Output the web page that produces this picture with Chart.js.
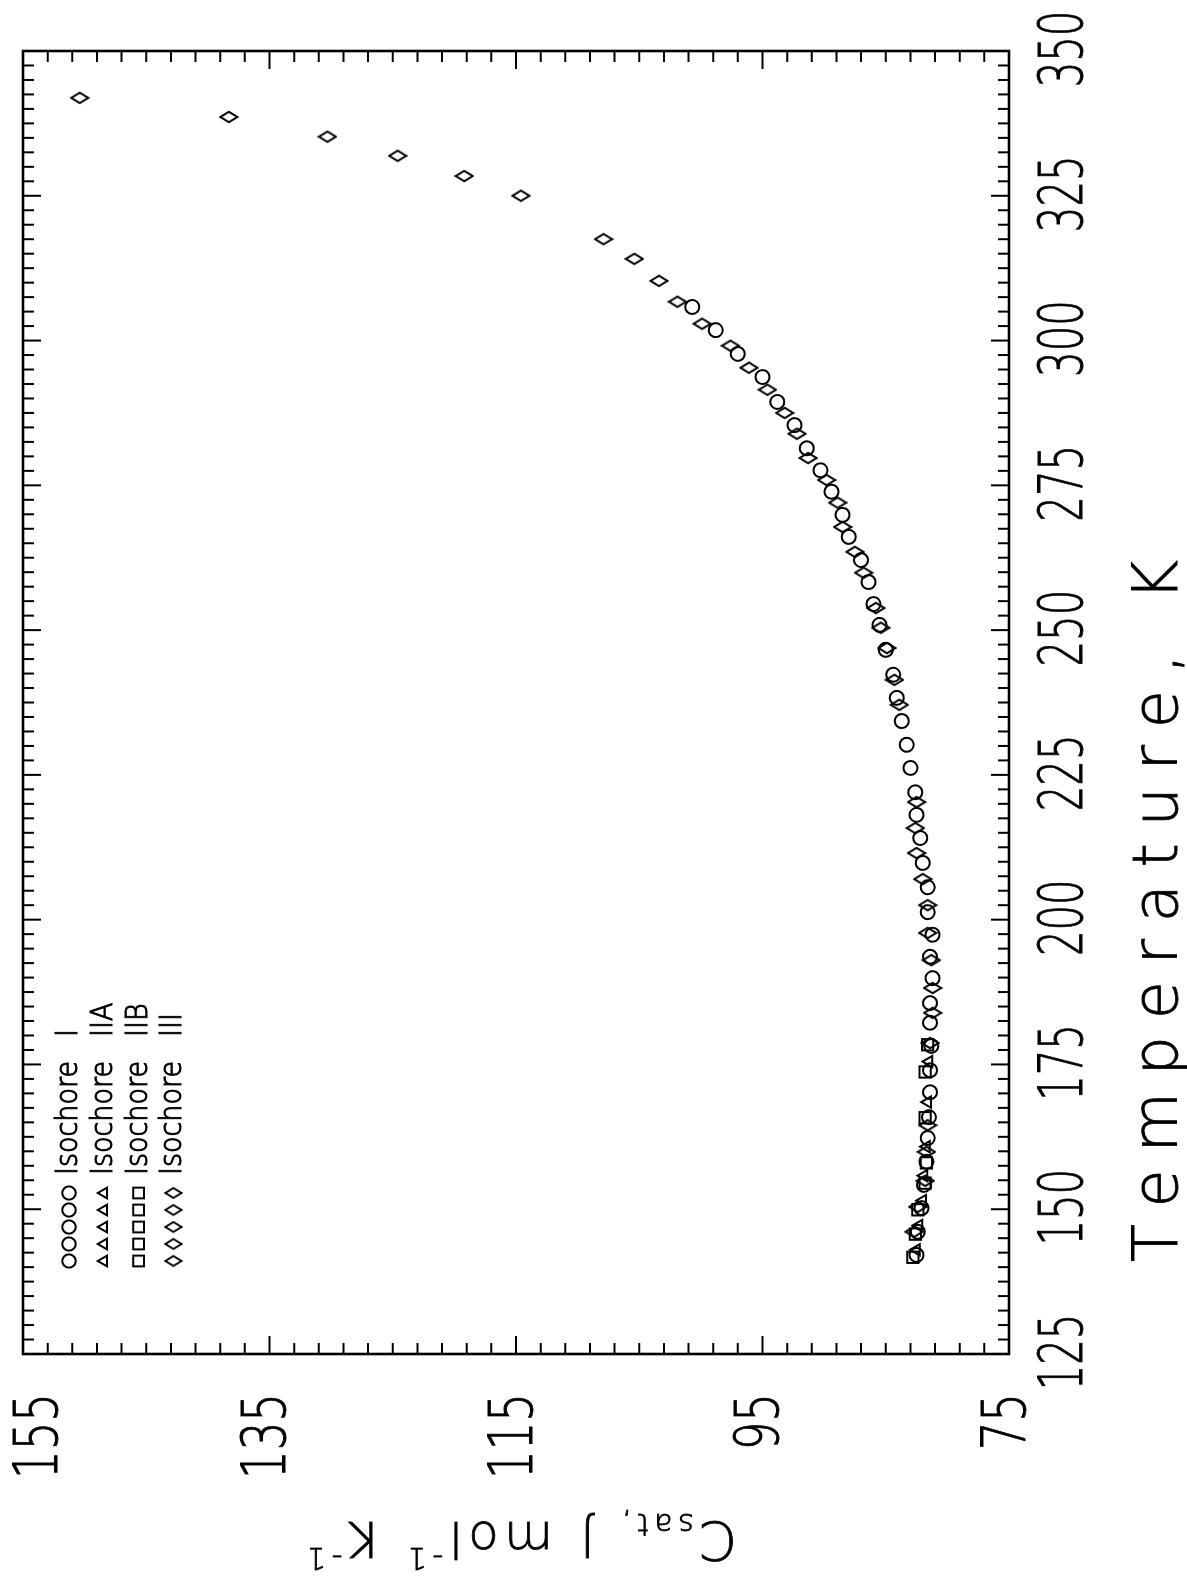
<!DOCTYPE html>
<html>
<head>
<meta charset="utf-8">
<title>Csat vs Temperature</title>
<script src="https://cdn.jsdelivr.net/npm/chart.js@4.4.0/dist/chart.umd.min.js"></script>
<style>
  html, body { margin: 0; padding: 0; background: #fff; overflow: hidden; }
  /* the original figure is printed sideways: draw it upright, then turn it */
  #wrap {
    position: absolute; left: 0; top: 0;
    width: 1582px; height: 1187px;
    transform-origin: 0 0;
    transform: translate(0, 1582px) rotate(-90deg);
  }
</style>
</head>
<body>
<div id="wrap"><canvas id="cpChart" width="1582" height="1187"></canvas></div>
<script>
// Isochore I (circles)
const isoI_T = [142.1, 146.1, 150.2, 154.2, 158.2, 162.3, 165.9, 170.2, 174.0, 178.2,
                182.2, 185.6, 189.9, 193.6, 197.4, 201.3, 205.6, 209.8, 214.1, 218.1,
                222.0, 226.2, 230.2, 234.3, 238.3, 242.3, 246.6, 250.9, 254.5, 258.3,
                262.1, 266.1, 269.9, 273.9, 277.6, 281.4, 285.4, 289.4, 293.7, 297.7,
                301.8, 305.8];
const isoI_Cp = [82.5, 82.4, 82.1, 81.9, 81.7, 81.6, 81.5, 81.4, 81.4, 81.3,
                 81.4, 81.4, 81.2, 81.4, 81.2, 81.6, 81.6, 82.0, 82.2, 82.5,
                 82.6, 83.0, 83.3, 83.7, 84.1, 84.4, 85.0, 85.5, 86.0, 86.4,
                 87.0, 88.0, 88.5, 89.4, 90.3, 91.4, 92.4, 93.8, 95.0, 97.0,
                 98.8, 100.7];

// Isochore IIA (triangles)
const isoIIA_T = [143.0, 147.2, 151.5, 155.8, 160.8, 168.5, 175.5];
const isoIIA_Cp = [82.5, 82.3, 82.0, 81.9, 81.7, 81.6, 81.5];

// Isochore IIB (squares)
const isoIIB_T = [141.7, 145.7, 149.9, 154.5, 158.0, 165.8, 173.7, 178.4];
const isoIIB_Cp = [82.8, 82.6, 82.4, 81.8, 81.7, 81.8, 81.8, 81.6];

// Isochore III (diamonds)
const isoIII_T = [146.1, 150.4, 154.9, 159.9, 164.5, 178.7, 183.9, 188.2, 193.0, 197.7,
                  202.5, 207.0, 211.5, 215.8, 220.3, 237.1, 241.4, 246.9, 250.4, 253.8,
                  259.9, 263.5, 267.8, 272.0, 275.9, 279.7, 283.9, 287.5, 291.5, 295.3,
                  299.1, 302.9, 306.7, 310.3, 314.1, 317.5, 325.0, 328.4, 331.9, 335.2,
                  338.6, 341.9];
const isoIII_Cp = [82.7, 82.4, 81.8, 81.7, 81.6, 81.4, 81.2, 81.2, 81.3, 81.6,
                   81.6, 82.0, 82.5, 82.6, 82.5, 83.9, 84.3, 84.9, 85.4, 85.8,
                   86.8, 87.5, 88.5, 88.9, 89.8, 91.3, 92.2, 93.2, 94.6, 96.1,
                   97.6, 99.9, 101.9, 103.4, 105.4, 107.9, 114.6, 119.2, 124.6, 130.3,
                   138.3, 150.4];

const seriesNames = ['I', 'IIA', 'IIB', 'III'];

// axis ranges and tick steps
const tMin = 125, tMax = 350, tMajor = 25, tMinor = 2.5;
const cpMin = 75, cpMax = 155, cpMajor = 20, cpMinor = 2;

const FONT = '"DejaVu Sans", "Liberation Sans", sans-serif';

function toPoints(xs, ys) {
    return xs.map((x, i) => ({ x: x, y: ys[i] }));
}

// tall, narrow open diamond used as a point style
const diamondImg = document.createElement('canvas');
diamondImg.width = 14;
diamondImg.height = 20;
(function () {
    const g = diamondImg.getContext('2d');
    g.strokeStyle = '#000';
    g.lineWidth = 2;
    g.beginPath();
    g.moveTo(7, 1.5);
    g.lineTo(12.2, 10);
    g.lineTo(7, 18.5);
    g.lineTo(1.8, 10);
    g.closePath();
    g.stroke();
})();

const markers = [
    { pointStyle: 'circle', pointRadius: 7 },
    { pointStyle: 'triangle', pointRadius: 6.5 },
    { pointStyle: 'rect', pointRadius: 8 },
    { pointStyle: diamondImg, pointRadius: 8 }
];

function drawMarker(ctx, i, x, y, f) {
    const m = markers[i];
    const r = m.pointRadius * f;
    ctx.beginPath();
    if (m.pointStyle === 'circle') {
        ctx.arc(x, y, r, 0, Math.PI * 2);
        ctx.stroke();
    } else if (m.pointStyle === 'triangle') {
        for (let k = 0; k < 3; k++) {
            const a = -Math.PI / 2 + k * 2 * Math.PI / 3;
            const px = x + Math.cos(a) * r, py = y + Math.sin(a) * r;
            if (k === 0) ctx.moveTo(px, py); else ctx.lineTo(px, py);
        }
        ctx.closePath();
        ctx.stroke();
    } else if (m.pointStyle === 'rect') {
        const s = r * Math.SQRT1_2;
        ctx.strokeRect(x - s, y - s, 2 * s, 2 * s);
    } else {
        const w = m.pointStyle.width * f, h = m.pointStyle.height * f;
        ctx.drawImage(m.pointStyle, x - w / 2, y - h / 2, w, h);
    }
}

// narrow lettering like the plotter font: squeeze along the line
function narrowText(ctx, text, x, y, align, squeeze) {
    ctx.save();
    ctx.translate(x, y);
    ctx.scale(squeeze, 1);
    ctx.textAlign = align;
    ctx.fillText(text, 0, 0);
    ctx.strokeText(text, 0, 0);
    ctx.restore();
}

// box with inward ticks on all four sides
const framePlugin = {
    id: 'frame',
    afterDraw(chart) {
        const { ctx, chartArea: a, scales: { x, y } } = chart;
        ctx.save();
        ctx.strokeStyle = '#000';
        ctx.lineWidth = 2;
        ctx.beginPath();
        const nT = Math.round((tMax - tMin) / tMinor);
        const tEvery = Math.round(tMajor / tMinor);
        for (let i = 0; i <= nT; i++) {
            const px = x.getPixelForValue(tMin + i * tMinor);
            const len = i % tEvery === 0 ? 18 : 11;
            ctx.moveTo(px, a.bottom); ctx.lineTo(px, a.bottom - len);
            ctx.moveTo(px, a.top); ctx.lineTo(px, a.top + len);
        }
        const nC = Math.round((cpMax - cpMin) / cpMinor);
        const cEvery = Math.round(cpMajor / cpMinor);
        for (let i = 0; i <= nC; i++) {
            const py = y.getPixelForValue(cpMin + i * cpMinor);
            const len = i % cEvery === 0 ? 18 : 11;
            ctx.moveTo(a.left, py); ctx.lineTo(a.left + len, py);
            ctx.moveTo(a.right, py); ctx.lineTo(a.right - len, py);
        }
        ctx.stroke();
        ctx.lineWidth = 2.6;
        ctx.strokeRect(a.left, a.top, a.right - a.left, a.bottom - a.top);
        ctx.restore();
    }
};

// tick labels, placed from the library's scales
const tickLabelPlugin = {
    id: 'tickLabels',
    afterDraw(chart) {
        const { ctx, chartArea: a, scales: { x, y } } = chart;
        ctx.save();
        ctx.fillStyle = '#000';
        ctx.strokeStyle = '#000';
        ctx.lineWidth = 0.9;
        ctx.font = '200 60px ' + FONT;
        ctx.textBaseline = 'middle';
        x.ticks.forEach(t => {
            narrowText(ctx, String(t.value), x.getPixelForValue(t.value) + 2, a.bottom + 57, 'center', 0.67);
        });
        y.ticks.forEach(t => {
            const py = Math.max(y.getPixelForValue(t.value), 41);
            narrowText(ctx, String(t.value), a.left - 39, py, 'right', 0.75);
        });
        ctx.restore();
    }
};

// legend: five symbols per row, then the name
const legendPlugin = {
    id: 'isoLegend',
    afterDatasetsDraw(chart) {
        const ctx = chart.ctx;
        ctx.save();
        ctx.strokeStyle = '#000';
        ctx.fillStyle = '#000';
        ctx.lineWidth = 2;
        seriesNames.forEach((name, i) => {
            const rowY = 69 + i * 34.8;
            for (let k = 0; k < 5; k++) {
                drawMarker(ctx, i, 321 + k * 17, rowY, 0.95);
            }
        });
        ctx.lineWidth = 1.1;
        ctx.font = '200 31px ' + FONT;
        ctx.textBaseline = 'middle';
        seriesNames.forEach((name, i) => {
            const rowY = 69 + i * 34.8;
            narrowText(ctx, 'Isochore', 407, rowY, 'left', 0.87);
            narrowText(ctx, name, 545, rowY, 'left', 0.87);
        });
        ctx.restore();
    }
};

// draw a run of pieces letter by letter, spread over a given length
function spacedRun(ctx, pieces, start, length) {
    let natural = 0, count = 0;
    pieces.forEach(p => {
        ctx.font = '200 ' + p.size + 'px ' + FONT;
        p.ws = Array.from(p.t).map(ch => ctx.measureText(ch).width);
        p.ws.forEach(w => { natural += w; count++; });
    });
    const extra = (length - natural) / Math.max(1, count - 1);
    let cx = start;
    pieces.forEach(p => {
        ctx.font = '200 ' + p.size + 'px ' + FONT;
        Array.from(p.t).forEach((ch, k) => {
            ctx.textAlign = 'left';
            ctx.fillText(ch, cx, p.dy);
            ctx.strokeText(ch, cx, p.dy);
            cx += p.ws[k] + extra;
        });
    });
}

// axis titles
const titlesPlugin = {
    id: 'axisTitles',
    afterDraw(chart) {
        const ctx = chart.ctx;
        ctx.save();
        ctx.fillStyle = '#000';
        ctx.strokeStyle = '#000';
        ctx.lineWidth = 0.8;
        ctx.textAlign = 'left';
        ctx.textBaseline = 'alphabetic';

        ctx.save();
        ctx.translate(0, 1177);
        spacedRun(ctx, [{ t: 'Temperature, K', size: 62, dy: 0 }], 320, 702);
        ctx.restore();

        // C_sat, J mol^-1 K^-1, read bottom to top
        ctx.translate(60, 0);
        ctx.rotate(-Math.PI / 2);
        spacedRun(ctx, [
            { t: 'C', size: 54, dy: 0 },
            { t: 'sat,', size: 30, dy: 8 },
            { t: ' J mol', size: 50, dy: 0 },
            { t: '-1', size: 30, dy: -26 },
            { t: ' K', size: 50, dy: 0 },
            { t: '-1', size: 30, dy: -26 }
        ], -737, 430);
        ctx.restore();
    }
};

function dataset(label, xs, ys, i) {
    return Object.assign({
        label: label,
        data: toPoints(xs, ys),
        borderColor: '#000',
        backgroundColor: 'rgba(0,0,0,0)',
        pointBorderColor: '#000',
        pointBackgroundColor: 'rgba(0,0,0,0)',
        pointBorderWidth: 2,
        showLine: false
    }, markers[i]);
}

const cpCtx = document.getElementById('cpChart').getContext('2d');
new Chart(cpCtx, {
    type: 'scatter',
    data: {
        datasets: [
            dataset('Isochore ' + seriesNames[0], isoI_T, isoI_Cp, 0),
            dataset('Isochore ' + seriesNames[1], isoIIA_T, isoIIA_Cp, 1),
            dataset('Isochore ' + seriesNames[2], isoIIB_T, isoIIB_Cp, 2),
            dataset('Isochore ' + seriesNames[3], isoIII_T, isoIII_Cp, 3)
        ]
    },
    options: {
        responsive: false,
        animation: false,
        events: [],
        layout: { padding: { top: 23, right: 51, left: 0, bottom: 0 } },
        plugins: {
            legend: { display: false },
            tooltip: { enabled: false }
        },
        scales: {
            x: {
                type: 'linear',
                min: tMin,
                max: tMax,
                ticks: { stepSize: tMajor, display: false },
                grid: { display: false, drawTicks: false },
                border: { display: false },
                afterFit: function (s) { s.height = 178; }
            },
            y: {
                type: 'linear',
                min: cpMin,
                max: cpMax,
                ticks: { stepSize: cpMajor, display: false },
                grid: { display: false, drawTicks: false },
                border: { display: false },
                afterFit: function (s) { s.width = 228; }
            }
        }
    },
    plugins: [framePlugin, tickLabelPlugin, legendPlugin, titlesPlugin]
});
</script>
</body>
</html>
